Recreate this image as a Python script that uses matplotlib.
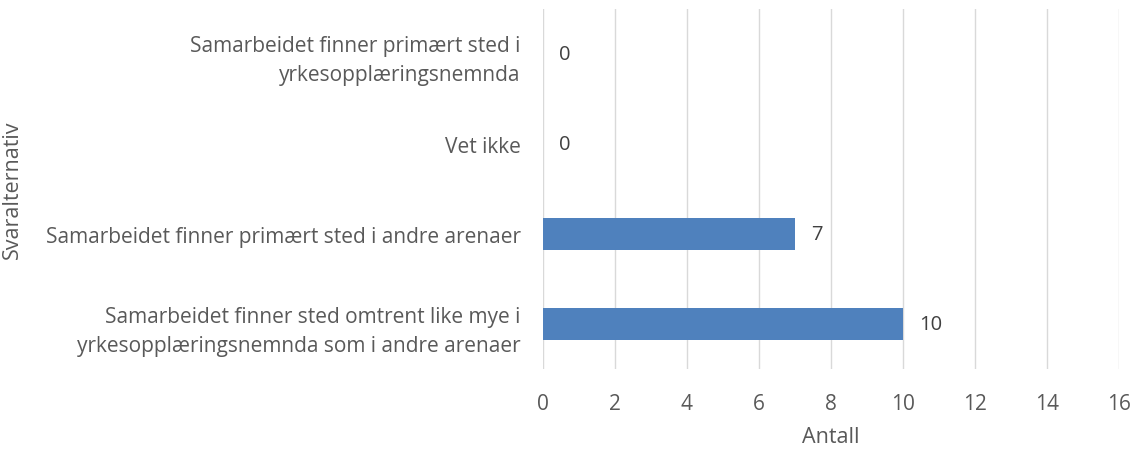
import matplotlib.pyplot as plt

# data
categories = [
    "Samarbeidet finner sted omtrent like mye i\nyrkesopplæringsnemnda som i andre arenaer",
    "Samarbeidet finner primært sted i andre arenaer",
    "Vet ikke",
    "Samarbeidet finner primært sted i\nyrkesopplæringsnemnda",
]
counts = [10, 7, 0, 0]
x_ticks = [0, 2, 4, 6, 8, 10, 12, 14, 16]

plt.rcParams["font.family"] = ["Open Sans", "DejaVu Sans"]
text_color = "#595959"

fig = plt.figure(figsize=(11.36, 4.52), dpi=100)
ax = fig.add_axes([0.478, 0.181, 0.507, 0.797])

pos = range(len(categories))
ax.barh(pos, counts, height=0.35, color="#4F81BD", zorder=3)

for y, v in zip(pos, counts):
    ax.text(v + 0.45, y, str(v), va="center", ha="left",
            fontsize=14.5, color="#404040")

ax.set_xlim(0, 16)
ax.set_ylim(-0.5, len(categories) - 0.5)
ax.set_xticks(x_ticks)
ax.set_yticks(list(pos))
ax.set_yticklabels(categories, fontsize=15, color=text_color, linespacing=1.5)
ax.tick_params(axis="x", labelsize=15, colors=text_color, length=0, pad=17)
ax.tick_params(axis="y", length=0, pad=16)

ax.grid(axis="x", color="#D9D9D9", linewidth=1, zorder=0)
for s in ax.spines.values():
    s.set_visible(False)

ax.set_xlabel("Antall", fontsize=15.5, color=text_color, labelpad=9)
fig.text(0.011, 0.58, "Svaralternativ", rotation=90, va="center", ha="center",
         fontsize=15.5, color=text_color)

fig.savefig("out.png", dpi=100)
